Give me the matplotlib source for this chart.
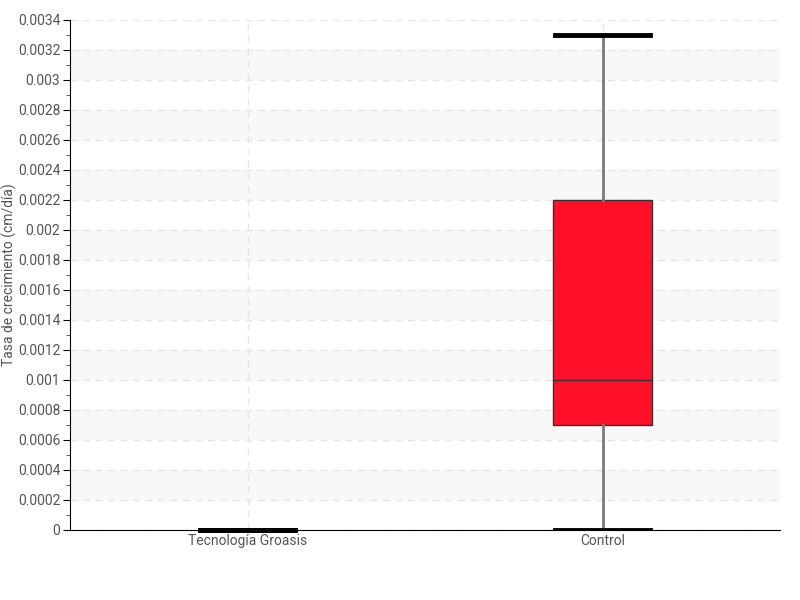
import numpy as np
import matplotlib.pyplot as plt
from matplotlib.ticker import MultipleLocator, FuncFormatter

plt.rcParams['font.family'] = ['Roboto', 'DejaVu Sans']

categories = ["Tecnología Groasis", "Control"]
whislo = [0.0, 0.0]
q1 = [0.0, 0.0007]
med = [0.0, 0.001]
q3 = [0.0, 0.0022]
whishi = [0.0, 0.0033]

stats = []
for i in range(len(categories)):
    stats.append(dict(label=categories[i], whislo=whislo[i], q1=q1[i], med=med[i],
                      q3=q3[i], whishi=whishi[i], fliers=[]))

fig = plt.figure(figsize=(8, 6), dpi=100, facecolor='white')
ax = fig.add_axes([0.0875, 0.1167, 0.8875, 0.85])

# alternating bands
step = 0.0002
for k in range(0, 17):
    if k % 2 == 1:
        ax.axhspan(k * step, (k + 1) * step, color='#f8f8f8', zorder=0, lw=0)

parts = ax.bxp(stats, positions=[0, 1], widths=0.28, patch_artist=True, showfliers=False,
               boxprops=dict(facecolor='#ff0f28', edgecolor='#333333', linewidth=1),
               medianprops=dict(color='#333333', linewidth=1),
               whiskerprops=dict(color='#7a7a7a', linewidth=2),
               capprops=dict(color='black', linewidth=3.5),
               capwidths=0.27, zorder=3)
# the all-zero box shows its caps in full
for c in parts['caps'][:2]:
    c.set_clip_on(False)

ax.set_xlim(-0.5, 1.5)
ax.set_ylim(0, 0.0034)
ax.yaxis.set_major_locator(MultipleLocator(0.0002))
ax.yaxis.set_minor_locator(MultipleLocator(0.0001))
ax.yaxis.set_major_formatter(FuncFormatter(lambda v, p: ('%.4f' % v).rstrip('0').rstrip('.')))
ax.grid(True, which='major', axis='both', color='#e6e6e6', linestyle=(0, (5, 4)), linewidth=1, zorder=1)
ax.set_axisbelow(True)

for s in ['top', 'right']:
    ax.spines[s].set_visible(False)
ax.spines['left'].set_color('black')
ax.spines['bottom'].set_color('black')

ax.tick_params(axis='y', which='major', length=5, color='black', labelsize=10, labelcolor='#555555', pad=2)
ax.tick_params(axis='y', which='minor', length=3, color='#dd0000')
ax.tick_params(axis='x', length=0, labelsize=10, labelcolor='#555555', pad=3)
ax.set_ylabel("Tasa de crecimiento (cm/día)", fontsize=10, color='#555555')
ax.yaxis.set_label_coords(-0.075, 0.5)

fig.savefig("out.png")
